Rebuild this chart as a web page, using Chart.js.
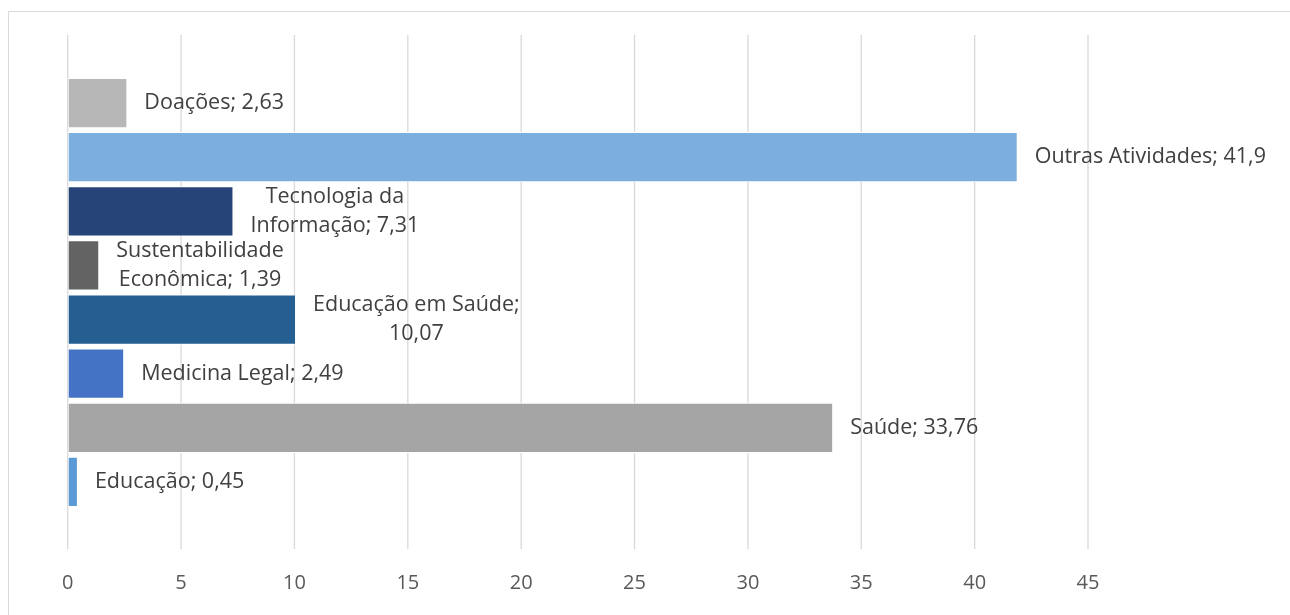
<!DOCTYPE html>
<html>
<head>
<meta charset="utf-8">
<script src="https://cdn.jsdelivr.net/npm/chart.js@4/dist/chart.umd.min.js"></script>
<style>
  html, body { margin: 0; padding: 0; background: #fff; overflow: hidden; }
  #frame { position: absolute; left: 8px; top: 11px; width: 1300px; height: 620px;
           border-top: 1.5px solid #d9d9d9; border-left: 1.5px solid #d9d9d9; box-sizing: border-box; }
  #wrap { position: absolute; left: 0; top: 0; width: 1290px; height: 615px; }
</style>
</head>
<body>
<div id="frame"></div>
<div id="wrap"><canvas id="c" width="1290" height="615"></canvas></div>
<script>
// ---- data ----
const categories = ["Doações", "Outras Atividades", "Tecnologia da Informação", "Sustentabilidade Econômica",
                    "Educação em Saúde", "Medicina Legal", "Saúde", "Educação"];
const values = [2.63, 41.9, 7.31, 1.39, 10.07, 2.49, 33.76, 0.45];
const barColors = ["#B7B7B7", "#7CAFDD", "#264478", "#636363", "#255E91", "#4472C4", "#A5A5A5", "#5B9BD5"];
const xTickValues = [0, 5, 10, 15, 20, 25, 30, 35, 40, 45];
const labelWrapWidth = [0, 0, 200, 200, 215, 0, 0, 0]; // 0 = no wrapping

const LABEL_FONT = '21.5px "Open Sans"';
const fmt = v => String(v).replace('.', ',');

function wrapText(ctx, text, maxW) {
  if (!maxW) return [text];
  const words = text.split(' ');
  const lines = [];
  let cur = '';
  for (const w of words) {
    const test = cur ? cur + ' ' + w : w;
    if (cur && ctx.measureText(test).width > maxW) { lines.push(cur); cur = w; }
    else cur = test;
  }
  if (cur) lines.push(cur);
  return lines;
}

const gridPlugin = {
  id: 'extGrid',
  beforeDatasetsDraw(chart) {
    const ctx = chart.ctx, xs = chart.scales.x;
    ctx.save();
    ctx.strokeStyle = '#d9d9d9';
    ctx.lineWidth = 1.3;
    xs.ticks.forEach(t => {
      const x = xs.getPixelForValue(t.value);
      ctx.beginPath();
      ctx.moveTo(x, 35);
      ctx.lineTo(x, 549);
      ctx.stroke();
    });
    ctx.restore();
  }
};

const labelPlugin = {
  id: 'barLabels',
  afterDatasetsDraw(chart) {
    const ctx = chart.ctx;
    const meta = chart.getDatasetMeta(0);
    ctx.save();
    ctx.font = LABEL_FONT;
    ctx.fillStyle = '#404040';
    ctx.textBaseline = 'middle';
    ctx.textAlign = 'center';
    meta.data.forEach((bar, i) => {
      const text = categories[i] + '; ' + fmt(values[i]);
      const lines = wrapText(ctx, text, labelWrapWidth[i]);
      const blockW = Math.max(...lines.map(l => ctx.measureText(l).width));
      const left = bar.x + 17;
      const lh = 29;
      const y0 = bar.y - (lines.length - 1) * lh / 2;
      lines.forEach((l, k) => ctx.fillText(l, left + blockW / 2, y0 + k * lh));
    });
    ctx.restore();
  }
};

new Chart(document.getElementById('c'), {
  type: 'bar',
  data: {
    labels: categories,
    datasets: [{
      data: values,
      backgroundColor: barColors,
      borderColor: '#ffffff',
      borderWidth: 1,
      borderSkipped: false,
      categoryPercentage: 1.0,
      barPercentage: 0.93
    }]
  },
  options: {
    indexAxis: 'y',
    responsive: false,
    animation: false,
    devicePixelRatio: 1,
    layout: { padding: { left: 65, right: 202, top: 76, bottom: 0 } },
    plugins: { legend: { display: false }, tooltip: { enabled: false } },
    scales: {
      y: { type: 'category', display: false },
      x: {
        type: 'linear',
        min: 0, max: 45,
        afterBuildTicks: s => { s.ticks = xTickValues.map(v => ({ value: v })); },
        afterFit: s => { s.height = 106; },
        border: { display: false },
        grid: { display: false, drawTicks: false },
        ticks: {
          padding: 62,
          color: '#595959',
          font: { family: 'Open Sans', size: 20 },
          callback: v => fmt(v)
        }
      }
    }
  },
  plugins: [gridPlugin, labelPlugin]
});
</script>
</body>
</html>
